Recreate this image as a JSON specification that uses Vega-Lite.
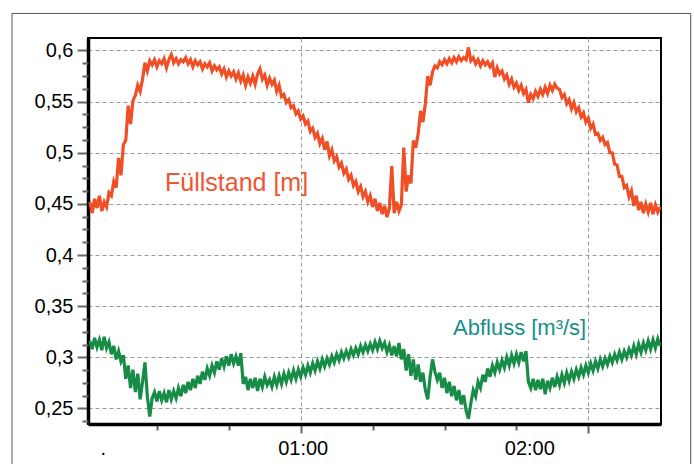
{
  "$schema": "https://vega.github.io/schema/vega-lite/v6.json",
  "width": 573,
  "height": 386,
  "autosize": {"type": "none"},
  "padding": {"left": 88, "top": 38, "right": 33, "bottom": 40},
  "background": "white",
  "config": {"view": {"stroke": "black", "strokeWidth": 2}, "font": "Liberation Sans"},
  "datasets": {
    "series": [
      {"t":16.0,"f":0.452,"a":0.316},{"t":16.5,"f":0.441,"a":0.308},{"t":17.0,"f":0.455,"a":0.319},{"t":17.5,"f":0.446,"a":0.310},
      {"t":18.0,"f":0.458,"a":0.317},{"t":18.5,"f":0.443,"a":0.307},{"t":19.0,"f":0.452,"a":0.320},{"t":19.5,"f":0.447,"a":0.309},
      {"t":20.0,"f":0.461,"a":0.315},{"t":20.5,"f":0.458,"a":0.303},{"t":21.0,"f":0.472,"a":0.311},{"t":21.5,"f":0.466,"a":0.298},
      {"t":22.0,"f":0.495,"a":0.306},{"t":22.5,"f":0.478,"a":0.296},{"t":23.0,"f":0.508,"a":0.302},{"t":23.5,"f":0.512,"a":0.279},
      {"t":24.0,"f":0.546,"a":0.292},{"t":24.5,"f":0.528,"a":0.270},{"t":25.0,"f":0.551,"a":0.288},{"t":25.5,"f":0.556,"a":0.266},
      {"t":26.0,"f":0.566,"a":0.284},{"t":26.5,"f":0.560,"a":0.259},{"t":27.0,"f":0.572,"a":0.276},{"t":27.5,"f":0.588,"a":0.295},
      {"t":28.0,"f":0.580,"a":0.262},{"t":28.5,"f":0.590,"a":0.242},{"t":29.0,"f":0.586,"a":0.260},{"t":29.5,"f":0.591,"a":0.266},
      {"t":30.0,"f":0.584,"a":0.257},{"t":30.5,"f":0.590,"a":0.267},{"t":31.0,"f":0.587,"a":0.258},{"t":31.5,"f":0.592,"a":0.265},
      {"t":32.0,"f":0.583,"a":0.256},{"t":32.5,"f":0.591,"a":0.268},{"t":33.0,"f":0.596,"a":0.259},{"t":33.5,"f":0.588,"a":0.267},
      {"t":34.0,"f":0.592,"a":0.260},{"t":34.5,"f":0.587,"a":0.270},{"t":35.0,"f":0.591,"a":0.262},{"t":35.5,"f":0.589,"a":0.273},
      {"t":36.0,"f":0.593,"a":0.265},{"t":36.5,"f":0.587,"a":0.276},{"t":37.0,"f":0.591,"a":0.268},{"t":37.5,"f":0.584,"a":0.279},
      {"t":38.0,"f":0.590,"a":0.270},{"t":38.5,"f":0.586,"a":0.282},{"t":39.0,"f":0.589,"a":0.274},{"t":39.5,"f":0.582,"a":0.286},
      {"t":40.0,"f":0.587,"a":0.278},{"t":40.5,"f":0.584,"a":0.289},{"t":41.0,"f":0.588,"a":0.282},{"t":41.5,"f":0.580,"a":0.292},
      {"t":42.0,"f":0.585,"a":0.285},{"t":42.5,"f":0.581,"a":0.296},{"t":43.0,"f":0.584,"a":0.288},{"t":43.5,"f":0.577,"a":0.299},
      {"t":44.0,"f":0.582,"a":0.291},{"t":44.5,"f":0.574,"a":0.301},{"t":45.0,"f":0.580,"a":0.292},{"t":45.5,"f":0.575,"a":0.303},
      {"t":46.0,"f":0.579,"a":0.294},{"t":46.5,"f":0.572,"a":0.301},{"t":47.0,"f":0.578,"a":0.292},{"t":47.5,"f":0.570,"a":0.304},
      {"t":48.0,"f":0.576,"a":0.274},{"t":48.5,"f":0.566,"a":0.281},{"t":49.0,"f":0.574,"a":0.268},{"t":49.5,"f":0.568,"a":0.279},
      {"t":50.0,"f":0.575,"a":0.270},{"t":50.5,"f":0.567,"a":0.280},{"t":51.0,"f":0.577,"a":0.267},{"t":51.5,"f":0.582,"a":0.279},
      {"t":52.0,"f":0.572,"a":0.271},{"t":52.5,"f":0.576,"a":0.281},{"t":53.0,"f":0.566,"a":0.273},{"t":53.5,"f":0.573,"a":0.278},
      {"t":54.0,"f":0.567,"a":0.271},{"t":54.5,"f":0.571,"a":0.281},{"t":55.0,"f":0.560,"a":0.273},{"t":55.5,"f":0.566,"a":0.282},
      {"t":56.0,"f":0.555,"a":0.274},{"t":56.5,"f":0.557,"a":0.284},{"t":57.0,"f":0.549,"a":0.276},{"t":57.5,"f":0.552,"a":0.285},
      {"t":58.0,"f":0.544,"a":0.278},{"t":58.5,"f":0.546,"a":0.287},{"t":59.0,"f":0.538,"a":0.279},{"t":59.5,"f":0.541,"a":0.288},
      {"t":60.0,"f":0.533,"a":0.281},{"t":60.5,"f":0.536,"a":0.290},{"t":61.0,"f":0.528,"a":0.283},{"t":61.5,"f":0.531,"a":0.292},
      {"t":62.0,"f":0.521,"a":0.285},{"t":62.5,"f":0.524,"a":0.294},{"t":63.0,"f":0.515,"a":0.287},{"t":63.5,"f":0.519,"a":0.296},
      {"t":64.0,"f":0.509,"a":0.289},{"t":64.5,"f":0.514,"a":0.298},{"t":65.0,"f":0.503,"a":0.291},{"t":65.5,"f":0.511,"a":0.299},
      {"t":66.0,"f":0.497,"a":0.293},{"t":66.5,"f":0.503,"a":0.301},{"t":67.0,"f":0.492,"a":0.295},{"t":67.5,"f":0.496,"a":0.303},
      {"t":68.0,"f":0.486,"a":0.297},{"t":68.5,"f":0.490,"a":0.305},{"t":69.0,"f":0.480,"a":0.299},{"t":69.5,"f":0.484,"a":0.306},
      {"t":70.0,"f":0.474,"a":0.300},{"t":70.5,"f":0.478,"a":0.308},{"t":71.0,"f":0.468,"a":0.302},{"t":71.5,"f":0.472,"a":0.309},
      {"t":72.0,"f":0.462,"a":0.303},{"t":72.5,"f":0.467,"a":0.311},{"t":73.0,"f":0.457,"a":0.305},{"t":73.5,"f":0.462,"a":0.312},
      {"t":74.0,"f":0.452,"a":0.306},{"t":74.5,"f":0.458,"a":0.313},{"t":75.0,"f":0.447,"a":0.307},{"t":75.5,"f":0.455,"a":0.315},
      {"t":76.0,"f":0.443,"a":0.308},{"t":76.5,"f":0.451,"a":0.316},{"t":77.0,"f":0.440,"a":0.309},{"t":77.5,"f":0.448,"a":0.314},
      {"t":78.0,"f":0.437,"a":0.305},{"t":78.5,"f":0.446,"a":0.312},{"t":79.0,"f":0.487,"a":0.302},{"t":79.5,"f":0.441,"a":0.311},
      {"t":80.0,"f":0.452,"a":0.301},{"t":80.5,"f":0.443,"a":0.314},{"t":81.0,"f":0.449,"a":0.298},{"t":81.5,"f":0.505,"a":0.308},
      {"t":82.0,"f":0.462,"a":0.287},{"t":82.5,"f":0.478,"a":0.303},{"t":83.0,"f":0.470,"a":0.282},{"t":83.5,"f":0.512,"a":0.298},
      {"t":84.0,"f":0.505,"a":0.278},{"t":84.5,"f":0.518,"a":0.293},{"t":85.0,"f":0.541,"a":0.276},{"t":85.5,"f":0.530,"a":0.285},
      {"t":86.0,"f":0.548,"a":0.268},{"t":86.5,"f":0.575,"a":0.259},{"t":87.0,"f":0.566,"a":0.281},{"t":87.5,"f":0.579,"a":0.298},
      {"t":88.0,"f":0.585,"a":0.286},{"t":88.5,"f":0.583,"a":0.278},{"t":89.0,"f":0.589,"a":0.285},{"t":89.5,"f":0.586,"a":0.270},
      {"t":90.0,"f":0.591,"a":0.280},{"t":90.5,"f":0.587,"a":0.265},{"t":91.0,"f":0.592,"a":0.276},{"t":91.5,"f":0.588,"a":0.262},
      {"t":92.0,"f":0.593,"a":0.272},{"t":92.5,"f":0.589,"a":0.258},{"t":93.0,"f":0.594,"a":0.268},{"t":93.5,"f":0.590,"a":0.254},
      {"t":94.0,"f":0.593,"a":0.263},{"t":94.5,"f":0.591,"a":0.248},{"t":95.0,"f":0.603,"a":0.240},{"t":95.5,"f":0.590,"a":0.255},
      {"t":96.0,"f":0.593,"a":0.268},{"t":96.5,"f":0.587,"a":0.262},{"t":97.0,"f":0.591,"a":0.276},{"t":97.5,"f":0.585,"a":0.270},
      {"t":98.0,"f":0.590,"a":0.283},{"t":98.5,"f":0.586,"a":0.276},{"t":99.0,"f":0.589,"a":0.289},{"t":99.5,"f":0.584,"a":0.281},
      {"t":100.0,"f":0.588,"a":0.292},{"t":100.5,"f":0.574,"a":0.285},{"t":101.0,"f":0.583,"a":0.295},{"t":101.5,"f":0.577,"a":0.288},
      {"t":102.0,"f":0.580,"a":0.297},{"t":102.5,"f":0.572,"a":0.290},{"t":103.0,"f":0.576,"a":0.300},{"t":103.5,"f":0.567,"a":0.292},
      {"t":104.0,"f":0.572,"a":0.302},{"t":104.5,"f":0.564,"a":0.294},{"t":105.0,"f":0.568,"a":0.303},{"t":105.5,"f":0.561,"a":0.295},
      {"t":106.0,"f":0.566,"a":0.305},{"t":106.5,"f":0.558,"a":0.296},{"t":107.0,"f":0.562,"a":0.306},{"t":107.5,"f":0.549,"a":0.276},
      {"t":108.0,"f":0.557,"a":0.270},{"t":108.5,"f":0.553,"a":0.279},{"t":109.0,"f":0.560,"a":0.268},{"t":109.5,"f":0.555,"a":0.278},
      {"t":110.0,"f":0.562,"a":0.269},{"t":110.5,"f":0.557,"a":0.279},{"t":111.0,"f":0.564,"a":0.264},{"t":111.5,"f":0.558,"a":0.277},
      {"t":112.0,"f":0.566,"a":0.270},{"t":112.5,"f":0.561,"a":0.280},{"t":113.0,"f":0.567,"a":0.271},{"t":113.5,"f":0.563,"a":0.281},
      {"t":114.0,"f":0.562,"a":0.273},{"t":114.5,"f":0.554,"a":0.283},{"t":115.0,"f":0.557,"a":0.275},{"t":115.5,"f":0.548,"a":0.285},
      {"t":116.0,"f":0.552,"a":0.277},{"t":116.5,"f":0.543,"a":0.286},{"t":117.0,"f":0.549,"a":0.279},{"t":117.5,"f":0.540,"a":0.288},
      {"t":118.0,"f":0.544,"a":0.281},{"t":118.5,"f":0.535,"a":0.290},{"t":119.0,"f":0.539,"a":0.283},{"t":119.5,"f":0.530,"a":0.292},
      {"t":120.0,"f":0.534,"a":0.285},{"t":120.5,"f":0.524,"a":0.294},{"t":121.0,"f":0.528,"a":0.287},{"t":121.5,"f":0.518,"a":0.296},
      {"t":122.0,"f":0.519,"a":0.289},{"t":122.5,"f":0.512,"a":0.298},{"t":123.0,"f":0.515,"a":0.291},{"t":123.5,"f":0.508,"a":0.299},
      {"t":124.0,"f":0.510,"a":0.293},{"t":124.5,"f":0.500,"a":0.301},{"t":125.0,"f":0.500,"a":0.295},{"t":125.5,"f":0.489,"a":0.303},
      {"t":126.0,"f":0.488,"a":0.297},{"t":126.5,"f":0.477,"a":0.305},{"t":127.0,"f":0.477,"a":0.298},{"t":127.5,"f":0.466,"a":0.306},
      {"t":128.0,"f":0.468,"a":0.300},{"t":128.5,"f":0.457,"a":0.308},{"t":129.0,"f":0.463,"a":0.302},{"t":129.5,"f":0.448,"a":0.311},
      {"t":130.0,"f":0.458,"a":0.303},{"t":130.5,"f":0.444,"a":0.313},{"t":131.0,"f":0.452,"a":0.305},{"t":131.5,"f":0.441,"a":0.314},
      {"t":132.0,"f":0.450,"a":0.307},{"t":132.5,"f":0.442,"a":0.316},{"t":133.0,"f":0.451,"a":0.308},{"t":133.5,"f":0.440,"a":0.317},
      {"t":134.0,"f":0.449,"a":0.309},{"t":134.5,"f":0.442,"a":0.318},{"t":135.0,"f":0.447,"a":0.311}
    ],
    "one": [{}]
  },
  "resolve": {"axis": {"y": "independent"}},
  "layer": [
    {
      "data": {"name": "series"},
      "mark": {"type": "line", "color": "#f04e25", "strokeWidth": 3.2, "clip": true},
      "encoding": {
        "x": {
          "field": "t", "type": "quantitative",
          "scale": {"domain": [15.62, 135.17], "nice": false, "zero": false},
          "axis": {
            "title": null,
            "values": [18.3, 30, 45, 60, 75, 90, 105, 120],
            "labelExpr": "datum.value == 60 ? '01:00' : datum.value == 120 ? '02:00' : datum.value < 20 ? '.' : ''",
            "labelFont": "Liberation Sans",
            "labelFontSize": 20,
            "labelColor": "black",
            "labelOverlap": false,
            "labelFlush": false,
            "labelBound": false,
            "labelPadding": 5,
            "labelOffset": {"condition": {"test": "datum.value == 120", "value": -59}, "value": 2},
            "tickSize": 9,
            "tickDash": {"condition": {"test": "datum.value == 60 || datum.value == 120", "value": [20, 0]}, "value": [6, 20]},
            "tickOpacity": {"condition": {"test": "datum.value < 20", "value": 0}, "value": 1},
            "tickColor": "#666666",
            "tickWidth": 2,
            "domainColor": "black",
            "domainWidth": 3.5,
            "grid": true,
            "gridOpacity": {"condition": {"test": "datum.value == 60 || datum.value == 120", "value": 1}, "value": 0},
            "gridColor": "#999999",
            "gridDash": [4, 3],
            "gridWidth": 1
          }
        },
        "y": {
          "field": "f", "type": "quantitative",
          "scale": {"domain": [0.2348, 0.6122], "nice": false, "zero": false},
          "axis": {
            "title": null,
            "orient": "left",
            "values": [0.25, 0.3, 0.35, 0.4, 0.45, 0.5, 0.55, 0.6],
            "labelExpr": "replace(format(datum.value, '.2~f'), '.', ',')",
            "labelFont": "Liberation Sans",
            "labelFontSize": 20,
            "labelColor": "black",
            "labelOverlap": false,
            "labelFlush": false,
            "labelBound": false,
            "labelPadding": 4,
            "tickSize": 11,
            "tickColor": "#666666",
            "tickWidth": 2,
            "domainColor": "black",
            "domainWidth": 3.5,
            "grid": true,
            "gridColor": "#999999",
            "gridDash": [4, 3],
            "gridWidth": 1
          }
        }
      }
    },
    {
      "data": {"name": "series"},
      "mark": {"type": "line", "color": "#168c46", "strokeWidth": 3.2, "clip": true},
      "encoding": {
        "x": {"field": "t", "type": "quantitative"},
        "y": {
          "field": "a", "type": "quantitative",
          "axis": {
            "title": null,
            "orient": "left",
            "values": [0.2375,0.2625,0.275,0.2875,0.3125,0.325,0.3375,0.3625,0.375,0.3875,0.4125,0.425,0.4375,0.4625,0.475,0.4875,0.5125,0.525,0.5375,0.5625,0.575,0.5875],
            "labels": false,
            "grid": false,
            "domain": false,
            "tickSize": 6,
            "tickColor": "#666666",
            "tickWidth": 2
          }
        }
      }
    },
    {
      "data": {"name": "one"},
      "mark": {"type": "rect", "fill": null, "stroke": "#555555", "strokeWidth": 1, "clip": false},
      "encoding": {
        "x": {"datum": -0.24, "type": "quantitative"},
        "x2": {"datum": 141.37},
        "y": {"datum": 0.6362, "type": "quantitative", "axis": null},
        "y2": {"datum": 0.1904}
      }
    },
    {
      "data": {"name": "one"},
      "mark": {"type": "text", "text": "Füllstand [m]", "align": "left", "baseline": "alphabetic", "font": "Liberation Sans", "fontSize": 25, "color": "#ef5533"},
      "encoding": {
        "x": {"datum": 31.69, "type": "quantitative"},
        "y": {"datum": 0.4622, "type": "quantitative", "axis": null}
      }
    },
    {
      "data": {"name": "one"},
      "mark": {"type": "text", "text": "Abfluss [m³/s]", "align": "left", "baseline": "alphabetic", "font": "Liberation Sans", "fontSize": 22, "color": "#17908a"},
      "encoding": {
        "x": {"datum": 91.77, "type": "quantitative"},
        "y": {"datum": 0.3214, "type": "quantitative", "axis": null}
      }
    }
  ]
}
